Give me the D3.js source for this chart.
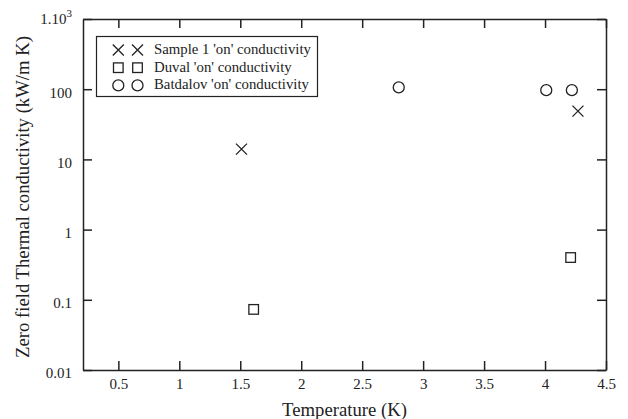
<!DOCTYPE html>
<html>
<head>
<meta charset="utf-8">
<script src="https://cdn.jsdelivr.net/npm/d3@7"></script>
<style>
  body { margin: 0; background: #fff; }
  text { font-family: "Liberation Serif", "Times New Roman", serif; fill: #222; }
  .domain, .tick line { stroke: #222; }
</style>
</head>
<body>
<script>
// data
var sampleT = [1.51, 4.27];
var sampleK = [14.0, 48.7];
var duvalT = [1.61, 4.21];
var duvalK = [0.073, 0.40];
var batdalovT = [2.80, 4.01, 4.22];
var batdalovK = [106, 97, 97];

var xTicks = [0.5, 1, 1.5, 2, 2.5, 3, 3.5, 4, 4.5];
var yTicks = [0.01, 0.1, 1, 10, 100, 1000];
var legendNames = ["Sample 1 'on' conductivity", "Duval 'on' conductivity", "Batdalov 'on' conductivity"];

var width = 628, height = 419;
var margin = {top: 19, right: 22, bottom: 49, left: 83};

var svg = d3.select('body').append('svg')
  .attr('width', width)
  .attr('height', height);

var x = d3.scaleLinear().domain([0.21, 4.5]).range([margin.left, width - margin.right]);
var y = d3.scaleLog().domain([0.01, 1000]).range([height - margin.bottom, margin.top]);

// axes, ticks pointing inward
var fmtY = d => d === 1000 ? '1.10' : String(d);

svg.append('g')
  .attr('transform', 'translate(0,' + y.range()[0] + ')')
  .call(d3.axisBottom(x).tickValues(xTicks).tickFormat(d => d)
    .tickSizeInner(-9).tickSizeOuter(0).tickPadding(8))
  .call(g => g.selectAll('text').attr('font-size', 15));

svg.append('g')
  .attr('transform', 'translate(0,' + y.range()[1] + ')')
  .call(d3.axisTop(x).tickValues(xTicks).tickSizeInner(-9).tickSizeOuter(0).tickFormat(''));

svg.append('g')
  .attr('transform', 'translate(' + x.range()[0] + ',0)')
  .call(d3.axisLeft(y).tickValues(yTicks).tickFormat(fmtY).tickSizeInner(-9).tickSizeOuter(0).tickPadding(11))
  .call(g => g.selectAll('text').attr('font-size', 15).attr('dy', '0.52em'))
  .call(g => g.selectAll('.tick').filter(d => d === 1000).select('text')
    .attr('dy', '0.3em')
    .append('tspan').attr('dy', '-0.6em').attr('font-size', 11).text('3'));

svg.append('g')
  .attr('transform', 'translate(' + x.range()[1] + ',0)')
  .call(d3.axisRight(y).tickValues(yTicks).tickSizeInner(-9).tickSizeOuter(0).tickFormat(''));

svg.selectAll('.domain, .tick line').attr('stroke-width', 1.5);

// axis titles
svg.append('text')
  .attr('x', (x.range()[0] + x.range()[1]) / 2)
  .attr('y', 415.5)
  .attr('text-anchor', 'middle')
  .attr('font-size', 18.7)
  .text('Temperature (K)');

svg.append('text')
  .attr('transform', 'translate(28.5,197) rotate(-90)')
  .attr('text-anchor', 'middle')
  .attr('font-size', 18.7)
  .text('Zero field Thermal conductivity (kW/m K)');

// markers
function cross(g, cx, cy) {
  var s = 5.5;
  g.append('path')
    .attr('d', 'M' + (cx - s) + ',' + (cy - s) + 'L' + (cx + s) + ',' + (cy + s) +
               'M' + (cx - s) + ',' + (cy + s) + 'L' + (cx + s) + ',' + (cy - s))
    .attr('stroke', '#222').attr('stroke-width', 1.3).attr('fill', 'none');
}
function square(g, cx, cy) {
  g.append('rect')
    .attr('x', cx - 4.8).attr('y', cy - 4.8).attr('width', 9.6).attr('height', 9.6)
    .attr('stroke', '#222').attr('stroke-width', 1.3).attr('fill', 'none');
}
function circle(g, cx, cy) {
  g.append('circle')
    .attr('cx', cx).attr('cy', cy).attr('r', 5.5)
    .attr('stroke', '#222').attr('stroke-width', 1.3).attr('fill', 'none');
}

var pts = svg.append('g');
sampleT.forEach((t, i) => cross(pts, x(t), y(sampleK[i])));
duvalT.forEach((t, i) => square(pts, x(t), y(duvalK[i])));
batdalovT.forEach((t, i) => circle(pts, x(t), y(batdalovK[i])));

// legend
var leg = svg.append('g');
leg.append('rect')
  .attr('x', 96.5).attr('y', 36.5).attr('width', 221).attr('height', 60)
  .attr('fill', '#fff').attr('stroke', '#222').attr('stroke-width', 1.2);
var markers = [cross, square, circle];
legendNames.forEach((name, i) => {
  var base = 54 + i * 17.7;
  markers[i](leg, 118.3, base - 4);
  markers[i](leg, 137.5, base - 4);
  leg.append('text')
    .attr('x', 154).attr('y', base)
    .attr('font-size', 14.8)
    .text(name);
});
</script>
</body>
</html>
